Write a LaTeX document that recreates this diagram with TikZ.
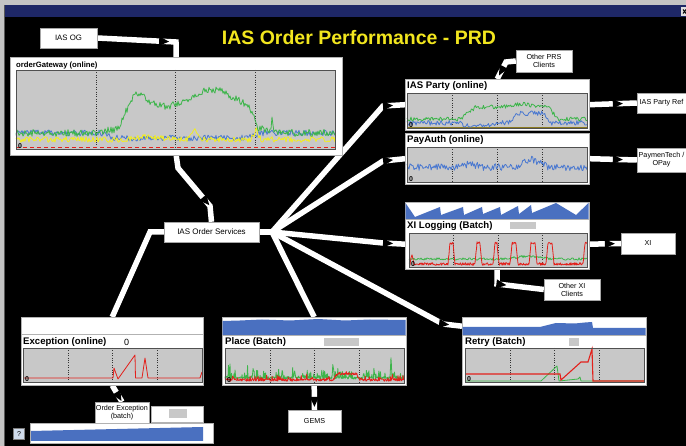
\documentclass[tikz,border=0pt]{standalone}
\usepackage{fontspec}
\setmainfont{Liberation Sans}
\usetikzlibrary{decorations.markings,backgrounds}

\definecolor{plotgray}{HTML}{C8C8C8}
\definecolor{framegray}{HTML}{505050}
\definecolor{sgreen}{HTML}{3CB54A}
\definecolor{sblue}{HTML}{4A78D0}
\definecolor{syellow}{HTML}{F2EE1E}
\definecolor{sred}{HTML}{E3201B}
\definecolor{solive}{HTML}{8A7A20}
\definecolor{areablue}{HTML}{4A70C0}
\definecolor{ttlyellow}{HTML}{F2E61E}
\definecolor{barnavy}{HTML}{1E2766}
\definecolor{wingray}{HTML}{C4C4C4}
\definecolor{btnblue}{HTML}{D0DCEC}

\tikzset{
  box/.style={draw=gray!70, fill=white, inner sep=1pt, align=center, font=\fontsize{7.2}{8}\selectfont},
  panel/.style={draw=gray!60, fill=white, anchor=north west, inner sep=0pt},
  ptitle/.style={anchor=west, inner sep=0pt, font=\bfseries\fontsize{9.6}{11}\selectfont},
  zero/.style={anchor=south west, inner sep=0pt, font=\bfseries\fontsize{7}{8}\selectfont},
  conn/.style={draw=white, line width=5.5pt},
  notch/.style={postaction={draw=none, decorate, decoration={markings,
      mark=at position #1 with {\fill[black] (0pt,0pt) -- (-10pt,4.6pt) -- (-10pt,-4.6pt) -- cycle;}}}},
  series/.style={line width=0.8pt, line join=round},
}

\begin{document}
\begin{tikzpicture}[x=1pt, y=-1pt,
    declare function={rmp(\t,\a,\b)=min(1,max(0,(\t-\a)/(\b-\a)));
                      tri(\t,\c,\w)=max(0,1-abs(\t-\c)/\w);}]
  \useasboundingbox (0,0) rectangle (686,446);
  \pgfmathsetseed{4}

  % window frame
  \fill[wingray] (0,0) rectangle (686,5);
  \fill[wingray] (0,0) rectangle (5,446);
  \draw[gray!70!black] (4.5,5) -- (4.5,446);
  \fill[barnavy] (5,5) rectangle (686,17);
  \fill[gray!25] (681,7) rectangle (687,16);
  \draw[black, line width=1pt] (683,9.5) -- (686,13.5) (683,13.5) -- (686,9.5);

  \node[font=\bfseries\fontsize{19.5}{22}\selectfont, text=ttlyellow, inner sep=0pt] (ttl) at (359,38) {IAS Order Performance - PRD};

  % boxes
  \node[box, minimum width=57, minimum height=20, font=\fontsize{7.8}{9}\selectfont] (og) at (68.5,38) {IAS OG};
  \node[box, minimum width=95, minimum height=20, font=\fontsize{8}{9}\selectfont] (svc) at (211.5,232) {IAS Order Services};
  \node[box, minimum width=56, minimum height=22] (prs) at (544,61) {Other PRS\\Clients};
  \node[box, minimum width=49, minimum height=20] (ref) at (661.5,103) {IAS Party Ref};
  \node[box, minimum width=49, minimum height=24] (tech) at (661.5,160) {PaymenTech /\\OPay};
  \node[box, minimum width=54, minimum height=21] (xi) at (648,243.5) {XI};
  \node[box, minimum width=56, minimum height=21] (xio) at (572,289.5) {Other XI\\Clients};
  \node[box, minimum width=53, minimum height=22] (gems) at (314.5,421) {GEMS};
  \node[box, minimum width=52, minimum height=21] (oex) at (122,412.5) {Order Exception\\(batch)};
  \node[panel, minimum width=52, minimum height=16] (oexsp) at (151,406) {};
  \fill[plotgray] (169,409) rectangle (187,418);
  \node[panel, minimum width=183, minimum height=20] (bar) at (30,423) {};
  \fill[areablue] (31,431) -- (203,427) -- (203,441) -- (31,441) -- cycle;
  \node[draw=gray, fill=btnblue, minimum width=11, minimum height=11, inner sep=0pt, font=\fontsize{7}{8}\selectfont] (help) at (19,434) {?};

  % panels
  \node[panel, minimum width=332, minimum height=98] (gw) at (10,57) {};
  \node[panel, minimum width=184, minimum height=51] (party) at (405,79) {};
  \node[panel, minimum width=184, minimum height=51] (pay) at (405,133) {};
  \node[panel, minimum width=184, minimum height=17] (xilsp) at (405,202) {};
  \node[panel, minimum width=184, minimum height=50] (xil) at (405,219) {};
  \node[panel, minimum width=182, minimum height=17] (excsp) at (21,317) {};
  \node[panel, minimum width=182, minimum height=51] (exc) at (21,334) {};
  \node[panel, minimum width=184, minimum height=18] (plcsp) at (222,317) {};
  \node[panel, minimum width=184, minimum height=50] (plc) at (222,335) {};
  \node[panel, minimum width=184, minimum height=18] (rtysp) at (462,317) {};
  \node[panel, minimum width=184, minimum height=50] (rty) at (462,335) {};

  \node[ptitle, font=\bfseries\fontsize{7.7}{9}\selectfont] (gwt) at (16,66) {orderGateway (online)};
  \node[ptitle] (partyt) at (407,86) {IAS Party (online)};
  \node[ptitle] (payt) at (407,140) {PayAuth (online)};
  \node[ptitle] (xilt) at (407,226) {XI Logging (Batch)};
  \node[ptitle] (exct) at (23,342) {Exception (online)};
  \node[anchor=west, inner sep=0pt, font=\fontsize{9}{10}\selectfont] (excval) at (124,342) {0};
  \node[ptitle] (plct) at (225,342) {Place (Batch)};
  \node[ptitle] (rtyt) at (465,342) {Retry (Batch)};
  \fill[plotgray] (510,222) rectangle (536,229.5);
  \fill[plotgray] (324,338) rectangle (359,346);
  \fill[plotgray] (569,338) rectangle (579,346);

  % sparkline areas
  \fill[areablue] (405.5,219) -- (405.5,203) -- (415,217) -- (440,207) -- (441,215) -- (463,207) -- (464,215)
    -- (482,207) -- (483,214) -- (500,207) -- (501,215) -- (518,206) -- (519,214) -- (531,205) -- (532,213)
    -- (556,203) -- (576,215) -- (588.5,203) -- (588.5,219) -- cycle;
  \fill[areablue] (222.5,335) -- (222.5,321) -- (240,320.5) -- (262,319.5) -- (290,320.5) -- (318,319)
    -- (345,320.5) -- (370,319.5) -- (405.5,320) -- (405.5,335) -- cycle;
  \fill[areablue] (462.5,335) -- (462.5,327) -- (540,327) -- (556,323) -- (575,323.5) -- (585,322.5)
    -- (592,322) -- (593,328) -- (645.5,328) -- (645.5,335) -- cycle;

  % plot areas
  \foreach \a/\b/\c/\d in {16/70/335/149, 407/93/587/128, 407/147/587/182, 409/233/587/267,
                           23/348/202/382, 225/348/404/383, 465/348/644/382} {
    \fill[plotgray] (\a,\b) rectangle (\c,\d);
    \foreach \k in {1,2,3}
      \draw[dotted, gray!40!black] ({\a+\k*(\c-\a)/4},\b) -- ({\a+\k*(\c-\a)/4},\d);
  }

  % orderGateway
  \draw[series, sblue] plot[domain=16:335, samples=320] (\x, {133 + 5*(rmp(\x,100,115)-rmp(\x,245,262)) + 3*rand});
  \draw[series, sgreen] plot[domain=16:335, samples=320] (\x, {133 - 5*rmp(\x,95,122) + 5*rmp(\x,256,290)
      + (98+8*cos((\x-167)*4) - 128)*(rmp(\x,118,136)-rmp(\x,249,258)) - 10*tri(\x,272,1.5) + 3.6*rand});
  \draw[series, syellow] plot[domain=16:335, samples=320] (\x, {min(147,139.5 - 3*tri(\x,150,25) - 9*tri(\x,195,8) - 9*tri(\x,256,5) + 2.8*rand)});
  \draw[sred, line width=1pt, dash pattern=on 4pt off 3pt] (16,148) -- (335,148);

  % IAS Party
  \draw[solive, line width=1pt] (407,127.3) -- (587,127.3);
  \draw[series, sblue] plot[domain=407:587, samples=180] (\x, {min(127, 123 + 3*(rmp(\x,460,468)-rmp(\x,490,500)) - 10*(rmp(\x,508,518)-rmp(\x,543,552)) + 2.5*rand)});
  \draw[series, sgreen] plot[domain=407:587, samples=180] (\x, {119 - 12*(rmp(\x,460,476)-rmp(\x,548,558)) - 3*tri(\x,522,22) + 2*rand});

  % PayAuth
  \draw[series, sblue] plot[domain=407:587, samples=180] (\x, {167 - 8*tri(\x,532,16) - 3*tri(\x,470,12) + 3.5*rand});

  % XI Logging
  \draw[series, sgreen] plot[domain=409:587, samples=179] (\x, {259 - 3*tri(\x,528,25) + 1.2*rand});
  \draw[series, sred] plot[domain=409:587, samples=357] (\x, {264 + 1.3*rand - 10*tri(\x,412,2)
      - 21*(rmp(\x,448,450)-rmp(\x,453,455) + rmp(\x,475,477)-rmp(\x,480,482) + rmp(\x,493,495)-rmp(\x,497,499)
      + rmp(\x,510,512)-rmp(\x,516,518) + rmp(\x,529,531)-rmp(\x,535,537) + rmp(\x,546,548)-rmp(\x,552,554)
      + rmp(\x,583,585))});

  % Exception
  \draw[series, sred] (23,378) -- (113,378) -- (114,368) -- (118,379) -- (135,355) -- (135.5,378) -- (142,378)
    -- (145,358) -- (148,378) -- (200,378) -- (202,372);

  % Place
  \draw[series, sgreen] plot[domain=225:404, samples=358] (\x, {min(382, 378 + 1.2*rand - (10+10*(1-rmp(\x,225,275)))*rnd^6 - 16*tri(\x,333,1) - 20*tri(\x,391,1))});
  \draw[series, sred] plot[domain=225:404, samples=358] (\x, {min(382, 380 + 1.2*rand - 6*(rmp(\x,333,337)-rmp(\x,356,360)) - 5*rnd^8)});

  % Retry
  \draw[series, sgreen] (465,381) -- (541,381) -- (557,366) -- (559,381) -- (578,379) -- (580,377) -- (581,381) -- (644,381);
  \draw[sred, line width=1.1pt] (465,374) -- (560,374) -- (561,380) -- (581,362) -- (588,362) -- (592,349) -- (593,381) -- (644,381);

  % plot frames
  \foreach \a/\b/\c/\d/\n in {16/70/335/149/gw, 407/93/587/128/party, 407/147/587/182/pay, 409/233/587/267/xil,
                              23/348/202/382/exc, 225/348/404/383/plc, 465/348/644/382/rty} {
    \draw[framegray, line width=0.9pt] (\a,\b) rectangle (\c,\d);
    \node[zero] (\n0) at ({\a+2},{\d-0.5}) {0};
  }

  % connectors
  \begin{scope}[on background layer]
    \fill[black] (0,0) rectangle (686,446);
    \coordinate (hub) at (272,232);
    \draw[conn, notch=72pt] (og.east) -- (176,42) -- (gw.north);
    \draw[conn, notch=-17pt] (gw.south) -- (178,168) -- (210,206) -- (svc.north);
    \draw[conn] (svc.west) -- (150,232) -- (excsp.north);
    \draw[conn] (svc.east) -- (hub);
    \draw[conn, notch=-12pt] (hub) -- (383,106) -- (party.west);
    \draw[conn, notch=-12pt] (hub) -- (383,161) -- (pay.west);
    \draw[conn, notch=-12pt] (hub) -- (383,243) -- (xil.west);
    \draw[conn, notch=-13pt] (hub) -- (443,324) -- (rtysp.west);
    \draw[conn] (hub) -- (plcsp.north);
    \draw[conn, notch=-4pt] (prs.west) -- (506,62) -- (party.north);
    \draw[conn, notch=-14pt] (party.east) -- (ref.west);
    \draw[conn, notch=-14pt] (pay.east) -- (tech.west);
    \draw[conn, notch=-6pt] (xil.east) -- (xi.west);
    \draw[conn, notch=24pt] (xil.south) -- (497,284) -- (xio.west);
    \draw[conn, notch=-3pt] (plc.south) -- (gems.north);
    \draw[conn, notch=-1pt] (exc.south) -- (oex.north);
  \end{scope}
\end{tikzpicture}
\end{document}
